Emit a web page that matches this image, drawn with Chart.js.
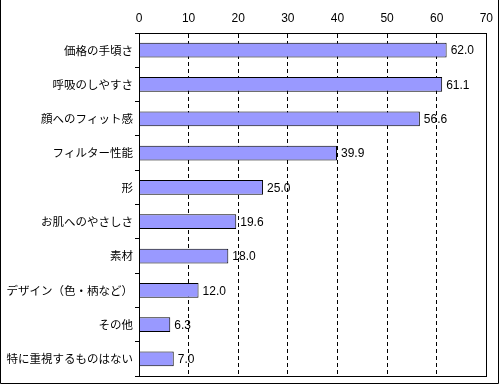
<!DOCTYPE html>
<html>
  <head>
    <meta charset="utf-8">
    <title>chart</title>
    <script src="https://cdn.jsdelivr.net/npm/chart.js@4/dist/chart.umd.min.js"></script>
    <style>
      html, body { margin: 0; padding: 0; background: #fff; }
      #wrap { position: relative; width: 500px; height: 385px; }
    </style>
  </head>
  <body>
    <div id="wrap"><canvas id="gr1"></canvas></div>
    <script>
    // categories and values
    const labels = [
      "価格の手頃さ",
      "呼吸のしやすさ",
      "顔へのフィット感",
      "フィルター性能",
      "形",
      "お肌へのやさしさ",
      "素材",
      "デザイン（色・柄など）",
      "その他",
      "特に重視するものはない"
    ];
    const values = [62.0, 61.1, 56.6, 39.9, 25.0, 19.6, 18.0, 12.0, 6.3, 7.0];
    const xMin = 0, xMax = 70, xStep = 10;

    const jpFont = "'Noto Sans CJK JP', 'Noto Sans', sans-serif";
    const numFont = "'Liberation Sans', Arial, sans-serif";

    // value labels + frames
    const extras = {
      id: 'extras',
      afterDatasetsDraw(chart) {
        const ctx = chart.ctx;
        const meta = chart.getDatasetMeta(0);
        ctx.save();
        ctx.fillStyle = '#000';
        ctx.font = "12px " + numFont;
        ctx.textAlign = 'left';
        ctx.textBaseline = 'middle';
        meta.data.forEach((bar, i) => {
          ctx.fillText(values[i].toFixed(1), bar.x + 4, bar.y + 1);
        });
        ctx.restore();
      },
      afterDraw(chart) {
        const ctx = chart.ctx;
        const a = chart.chartArea;
        ctx.save();
        ctx.strokeStyle = '#000';
        ctx.lineWidth = 1;
        ctx.strokeRect(Math.round(a.left) + 0.5, Math.round(a.top) + 0.5,
          Math.round(a.right - a.left), Math.round(a.bottom - a.top));
        // outer frame
        ctx.beginPath();
        ctx.moveTo(0.5, 0);
        ctx.lineTo(0.5, 383.5);
        ctx.lineTo(498.5, 383.5);
        ctx.lineTo(498.5, 0);
        ctx.stroke();
        ctx.restore();
      }
    };

    let config = {
      type: 'bar',
      data: {
        labels: labels,
        datasets: [
          {
            data: values,
            backgroundColor: '#9999FF',
            borderColor: '#000000',
            borderWidth: 1,
            barPercentage: 0.43,
            categoryPercentage: 1.0
          }
        ]
      },
      options: {
        indexAxis: 'y',
        responsive: false,
        animation: false,
        layout: { padding: { left: 0, right: 13, top: 0, bottom: 5 } },
        plugins: {
          legend: { display: false },
          tooltip: { enabled: false }
        },
        scales: {
          x: {
            position: 'top',
            min: xMin,
            max: xMax,
            ticks: {
              stepSize: xStep,
              color: '#000',
              padding: 7,
              font: { family: numFont, size: 12 }
            },
            grid: {
              color: '#000',
              drawTicks: false
            },
            border: { display: true, color: '#000', dash: [4, 3] },
            afterFit(scale) { scale.height = 33; }
          },
          y: {
            ticks: {
              color: '#000',
              padding: 2,
              font: { family: jpFont, size: 11.5 }
            },
            grid: {
              drawOnChartArea: false,
              color: '#000',
              tickLength: 4,
              offset: true
            },
            border: { display: true, color: '#000' },
            afterFit(scale) { scale.width = 139; }
          }
        }
      },
      plugins: [extras]
    };

    var canv = document.getElementById('gr1');
    canv.width = 500;
    canv.height = 385;
    var ctx = canv.getContext('2d');
    let graph1 = new Chart(ctx, config);
    </script>
  </body>
</html>
